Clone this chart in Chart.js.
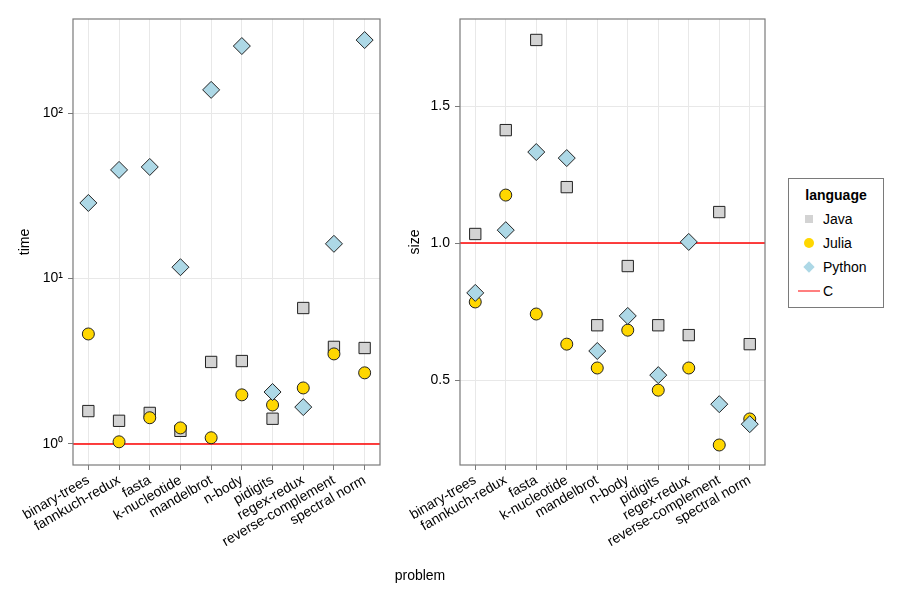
<!DOCTYPE html>
<html>
<head>
<meta charset="utf-8">
<script src="https://cdn.jsdelivr.net/npm/chart.js@4/dist/chart.umd.min.js"></script>
<style>
  body { margin: 0; background: #fff; font-family: "Liberation Sans", Arial, sans-serif; }
  #wrap { position: relative; width: 900px; height: 600px; }
  #left { position: absolute; left: 0; top: 0; }
  #right { position: absolute; left: 390px; top: 0; }
  #xtitle { position: absolute; left: 0; width: 840px; top: 567px; text-align: center; font-size: 14px; }
  #legend { position: absolute; left: 788px; top: 178px; width: 94px; height: 128px; border: 1px solid #7a7a7a; font-size: 14px; }
  #legend .ttl { font-weight: bold; text-align: center; margin-top: 8px; margin-bottom: 4px; }
  #legend .row { position: relative; height: 24px; line-height: 24px; padding-left: 34px; }
  #legend .mk { position: absolute; left: 20px; top: 12px; transform: translate(-50%, -50%); }
</style>
</head>
<body>
<div id="wrap">
  <canvas id="left" width="390" height="600"></canvas>
  <canvas id="right" width="385" height="600"></canvas>
  <div id="xtitle">problem</div>
  <div id="legend">
    <div class="ttl">language</div>
    <div class="row"><span class="mk" style="width:8px;height:8px;background:#d3d3d3"></span>Java</div>
    <div class="row"><span class="mk" style="width:10px;height:10px;border-radius:50%;background:#ffd700"></span>Julia</div>
    <div class="row"><span class="mk" style="width:8px;height:8px;background:#add8e6;transform:translate(-50%,-50%) rotate(45deg)"></span>Python</div>
    <div class="row"><span class="mk" style="width:22px;height:0;border-top:1.5px solid #ff0000"></span>C</div>
  </div>
</div>
<script>
// ---- Data ----
const problems = ["binary-trees", "fannkuch-redux", "fasta", "k-nucleotide", "mandelbrot",
  "n-body", "pidigits", "regex-redux", "reverse-complement", "spectral norm"];

// run time relative to C (log axis)
const javaTime   = [1.58, 1.38, 1.54, 1.20, 3.13, 3.17, 1.42, 6.63, 3.86, 3.80];
const juliaTime  = [4.62, 1.03, 1.44, 1.25, 1.09, 1.98, 1.72, 2.18, 3.50, 2.69];
const pythonTime = [28.6, 45.3, 47.2, 11.7, 138, 254, 2.06, 1.67, 16.2, 276];

// code size relative to C
const javaSize   = [1.033, 1.412, 1.741, 1.204, 0.700, 0.916, 0.700, 0.664, 1.113, 0.631];
const juliaSize  = [0.785, 1.175, 0.741, 0.631, 0.544, 0.682, 0.463, 0.544, 0.263, 0.358];
const pythonSize = [0.818, 1.047, 1.332, 1.310, 0.606, 0.734, 0.518, 1.004, 0.412, 0.339];

const cBaseline = [1, 1];
const timeTicks = [1, 10, 100];
const sizeTicks = [0.5, 1.0, 1.5];

const supers = { 0: "\u2070", 1: "\u00b9", 2: "\u00b2", 3: "\u00b3" };

function pts(values) {
  return values.map((v, i) => ({ x: i, y: v }));
}

// draw the full box round the plot area
const frame = {
  id: 'frame',
  afterDraw(chart) {
    const a = chart.chartArea, ctx = chart.ctx;
    ctx.save();
    ctx.strokeStyle = '#7a7a7a';
    ctx.lineWidth = 1.2;
    ctx.strokeRect(a.left, a.top, a.right - a.left, a.bottom - a.top);
    ctx.restore();
  }
};

function makeChart(id, yTitle, java, julia, python, yScale, axisWidth, titlePad) {
  const datasets = [
    { label: 'C', type: 'line', data: [{ x: -0.5, y: cBaseline[0] }, { x: 9.5, y: cBaseline[1] }],
      borderColor: '#ff0000', borderWidth: 1.5, pointRadius: 0, order: 4 },
    { label: 'Java', data: pts(java), pointStyle: 'rect', pointRadius: 8,
      backgroundColor: '#d3d3d3', borderColor: '#222', borderWidth: 1, order: 3 },
    { label: 'Julia', data: pts(julia), pointStyle: 'circle', pointRadius: 6,
      backgroundColor: '#ffd700', borderColor: '#222', borderWidth: 1, order: 2 },
    { label: 'Python', data: pts(python), pointStyle: 'rectRot', pointRadius: 8.5,
      backgroundColor: '#add8e6', borderColor: '#222', borderWidth: 1, order: 1 },
  ];

  return new Chart(document.getElementById(id), {
    type: 'scatter',
    data: { datasets },
    plugins: [frame],
    options: {
      responsive: false,
      animation: false,
      layout: { padding: { top: 19, right: 10, left: 0, bottom: 0 } },
      plugins: { legend: { display: false }, tooltip: { enabled: false } },
      scales: {
        x: {
          type: 'linear', min: -0.5, max: 9.5, bounds: 'data',
          afterBuildTicks: s => { s.ticks = problems.map((p, i) => ({ value: i })); },
          afterFit: s => { s.height = 135; },
          border: { display: false },
          grid: { color: '#e8e8e8', tickColor: '#7a7a7a', tickLength: 5 },
          ticks: {
            color: '#000', font: { size: 14, family: 'Liberation Sans' },
            minRotation: 30, maxRotation: 30, padding: 2, autoSkip: false,
            callback: v => problems[v]
          }
        },
        y: Object.assign({
          bounds: 'data',
          afterFit: s => { s.width = axisWidth; },
          border: { display: false },
          grid: { color: '#e8e8e8', tickColor: '#7a7a7a', tickLength: 5 },
          title: { display: true, text: yTitle, color: '#000',
            font: { size: 14, family: 'Liberation Sans' }, padding: { top: titlePad, bottom: 0 } }
        }, yScale)
      }
    }
  });
}

makeChart('left', 'time', javaTime, juliaTime, pythonTime, {
  type: 'logarithmic', min: 0.746, max: 370,
  afterBuildTicks: s => { s.ticks = timeTicks.map(v => ({ value: v })); },
  ticks: { color: '#000', font: { size: 14, family: 'Liberation Sans' }, padding: 5,
    callback: v => '10' + supers[Math.round(Math.log10(v))] }
}, 73, 17);

makeChart('right', 'size', javaSize, juliaSize, pythonSize, {
  type: 'linear', min: 0.19, max: 1.8175,
  afterBuildTicks: s => { s.ticks = sizeTicks.map(v => ({ value: v })); },
  ticks: { color: '#000', font: { size: 14, family: 'Liberation Sans' }, padding: 5,
    callback: v => v.toFixed(1) }
}, 70, 17);
</script>
</body>
</html>
